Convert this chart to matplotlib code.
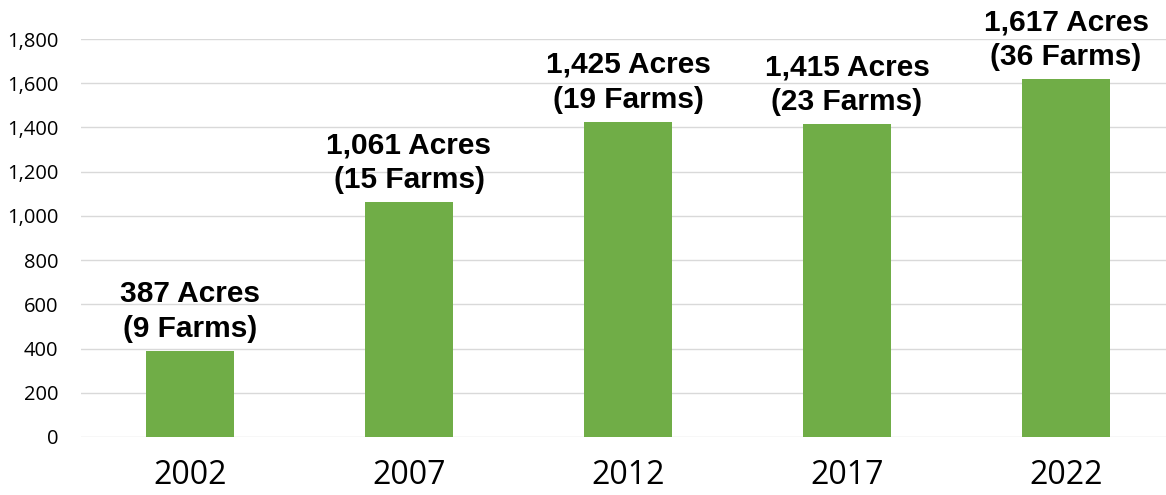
import matplotlib
matplotlib.use("Agg")
import matplotlib.pyplot as plt
from matplotlib.ticker import FuncFormatter, MultipleLocator

years = ["2002", "2007", "2012", "2017", "2022"]
acres = [387, 1061, 1425, 1415, 1617]
farms = [9, 15, 19, 23, 36]

W, H = 1166, 495
fig = plt.figure(figsize=(W / 100, H / 100), dpi=100)
left, right = 80.5, 1175.5
bottom, top = 437, 39
ax = fig.add_axes([left / W, (H - bottom) / H, (right - left) / W, (bottom - top) / H])

x = range(len(years))
ax.bar(x, acres, width=0.4, color="#70AD47", zorder=3)
ax.set_xlim(-0.5, len(years) - 0.5)
ax.set_ylim(0, 1800)
ax.yaxis.set_major_locator(MultipleLocator(200))
ax.yaxis.set_major_formatter(FuncFormatter(lambda v, p: f"{int(v):,}"))
ax.grid(axis="y", color="#D9D9D9", linewidth=1, zorder=0)
for s in ax.spines.values():
    s.set_visible(False)
ax.tick_params(axis="both", length=0)
ax.tick_params(axis="y", labelsize=14.5, pad=16, labelcolor="#000000")
ax.tick_params(axis="x", labelsize=23, pad=16)
ax.set_xticks(list(x))
ax.set_xticklabels(years)
for lab in ax.get_yticklabels() + ax.get_xticklabels():
    lab.set_family("Open Sans")

for i, (a, f) in enumerate(zip(acres, farms)):
    ax.annotate(f"{a:,} Acres\n({f} Farms)", (i, a), xytext=(0, 6), textcoords="offset points",
                ha="center", va="bottom", fontsize=21.5, fontweight="bold",
                family="Liberation Sans", linespacing=1.3, clip_on=False)

fig.savefig("out.png", dpi=100)
